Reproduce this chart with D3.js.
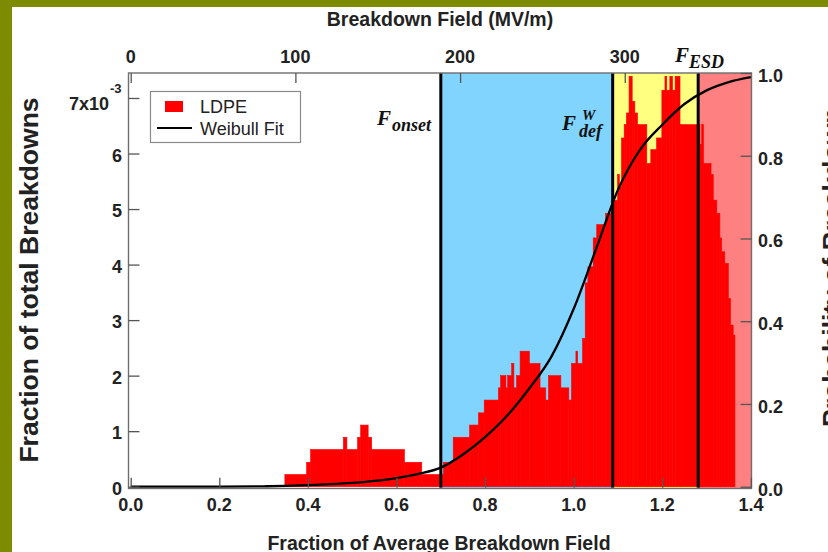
<!DOCTYPE html>
<html>
<head>
<meta charset="utf-8">
<script src="https://cdn.jsdelivr.net/npm/d3@7"></script>
<style>
  html, body { margin: 0; padding: 0; background: #fff; }
  svg { display: block; }
</style>
</head>
<body>
<svg id="chart" width="828" height="552"></svg>
<script>
// Histogram of breakdowns: step edges along the fraction-of-average-field axis
const stepEdges = [
  0.348, 0.397, 0.406, 0.480, 0.488, 0.512, 0.519, 0.536, 0.544, 0.618,
  0.657, 0.706, 0.728, 0.765, 0.785, 0.798, 0.830, 0.835, 0.847, 0.851,
  0.860, 0.865, 0.871, 0.879, 0.900, 0.924, 0.937, 0.943, 0.971, 0.989,
  0.995, 1.005, 1.009, 1.020, 1.026, 1.032, 1.044, 1.052, 1.072, 1.086,
  1.099, 1.103, 1.108, 1.114, 1.119, 1.125, 1.132, 1.138, 1.144, 1.165,
  1.174, 1.187, 1.199, 1.206, 1.210, 1.217, 1.223, 1.229, 1.240, 1.285,
  1.289, 1.293, 1.310, 1.315, 1.323, 1.330, 1.334, 1.341, 1.349, 1.354,
  1.360, 1.364
];
// Fraction of total breakdowns in each step (units of 1e-3)
const stepFraction = [
  0.22, 0.44, 0.67, 0.89, 0.67, 0.89, 1.11, 0.89, 0.67,
  0.44, 0.22, 0.44, 0.89, 1.11, 1.33, 1.56, 1.78, 2.00, 1.78,
  2.00, 2.22, 1.78, 2.00, 2.44, 2.22, 1.78, 1.56, 2.00, 1.78,
  1.56, 2.22, 2.44, 2.22, 2.67, 3.67, 3.96, 4.48, 4.72, 4.92,
  5.16, 5.62, 5.40, 6.28, 6.52, 6.73, 7.39, 6.94, 6.73, 6.52,
  5.82, 6.07, 6.28, 7.14, 7.39, 7.14, 7.39, 7.14, 7.39, 6.52,
  6.16, 6.52, 5.82, 5.62, 5.16, 4.92, 4.48, 4.23, 4.02, 3.39,
  2.91, 2.73
];

// Weibull fit (cumulative probability of breakdown)
const weibullX = [0, 0.2, 0.3, 0.35, 0.4, 0.45, 0.5, 0.55, 0.6, 0.65, 0.7, 0.75, 0.8,
  0.85, 0.9, 0.95, 1.0, 1.05, 1.1, 1.15, 1.2, 1.25, 1.3, 1.35, 1.4];
const weibullP = [0, 0, 0.001, 0.002, 0.004, 0.006, 0.009, 0.014, 0.021, 0.031, 0.046,
  0.078, 0.12, 0.172, 0.238, 0.315, 0.43, 0.573, 0.718, 0.815, 0.875, 0.925, 0.958, 0.978, 0.99];

// Field regions (fraction of average breakdown field)
const regionStart = [0.7, 1.088, 1.281];
const regionColors = ["#80d4fe", "#ffff80", "#ff8080"];

const bottomTicks = [0.0, 0.2, 0.4, 0.6, 0.8, 1.0, 1.2, 1.4];
const leftTicks = [0, 1, 2, 3, 4, 5, 6, 7];
const rightTicks = [0.0, 0.2, 0.4, 0.6, 0.8, 1.0];
const topTicks = [0, 100, 200, 300];
const averageField = 269; // MV/m corresponding to fraction 1.0

const sans = "'Liberation Sans', Arial, sans-serif";
const serif = "'Liberation Serif', 'Times New Roman', serif";

const svg = d3.select("#chart").style("font-family", sans);
const L = 128.5, R = 751.5, T = 73, B = 486.7;

const x = d3.scaleLinear().domain([-0.005, 1.4]).range([L, R - 0.6]);
const y = d3.scaleLinear().domain([0, 7.45]).range([B, T]);
const yP = d3.scaleLinear().domain([0, 1]).range([B, T]);
const xField = d3.scaleLinear().domain([0, 1.4 * averageField]).range([x(0), x(1.4)]);

// page frame
svg.append("rect").attr("x", 0).attr("y", 0).attr("width", 828).attr("height", 552).attr("fill", "#fff");
svg.append("rect").attr("x", 0).attr("y", 0).attr("width", 828).attr("height", 7).attr("fill", "#7d8b00");
svg.append("rect").attr("x", 0).attr("y", 0).attr("width", 12).attr("height", 552).attr("fill", "#7d8b00");

// colored field regions
const bounds = regionStart.concat([1.4]);
svg.selectAll("rect.region").data(regionColors).join("rect")
  .attr("class", "region")
  .attr("x", (d, i) => x(bounds[i]))
  .attr("y", T)
  .attr("width", (d, i) => (i === 2 ? R : x(bounds[i + 1])) - x(bounds[i]))
  .attr("height", B - T + 1.5)
  .attr("fill", d => d);

// histogram (thin same-colour stroke hides seams between neighbouring steps)
const bins = stepFraction.map((v, i) => ({ x0: stepEdges[i], x1: stepEdges[i + 1], v }));
svg.append("g").selectAll("rect").data(bins).join("rect")
  .attr("x", d => x(d.x0))
  .attr("y", d => y(d.v))
  .attr("width", d => x(d.x1) - x(d.x0))
  .attr("height", d => B - y(d.v))
  .attr("fill", "#ff0000")
  .attr("stroke", "#ff0000")
  .attr("stroke-width", 0.6);

// region boundary lines
svg.append("g").selectAll("line").data(regionStart).join("line")
  .attr("x1", d => x(d)).attr("x2", d => x(d))
  .attr("y1", T).attr("y2", B + 1)
  .attr("stroke", "#000").attr("stroke-width", 3);

// Weibull curve
const line = d3.line()
  .x(d => x(d[0]))
  .y(d => yP(d[1]))
  .curve(d3.curveMonotoneX);
svg.append("path")
  .datum(weibullX.map((v, i) => [v, weibullP[i]]))
  .attr("d", line)
  .attr("fill", "none")
  .attr("stroke", "#000")
  .attr("stroke-width", 2.3);

// plot frame
svg.append("rect")
  .attr("x", L).attr("y", T).attr("width", R - L).attr("height", B - T + 1.8)
  .attr("fill", "none").attr("stroke", "#6e6e6e").attr("stroke-width", 1.4);

// axes (inward ticks)
const tickStyle = g => g.selectAll("line").attr("stroke", "#555").attr("stroke-width", 1.3);
const axB = svg.append("g").attr("transform", `translate(0,${B + 1})`)
  .call(d3.axisTop(x).tickValues(bottomTicks).tickSize(10).tickFormat(""));
axB.select(".domain").remove(); tickStyle(axB);
svg.append("g").selectAll("text").data(bottomTicks).join("text")
  .attr("x", d => x(d)).attr("y", 511)
  .attr("text-anchor", "middle").attr("font-size", 18).attr("font-weight", "bold").attr("fill", "#222")
  .text(d => d3.format(".1f")(d));

const axL = svg.append("g").attr("transform", `translate(${L},0)`)
  .call(d3.axisRight(y).tickValues(leftTicks).tickSize(11).tickFormat(""));
axL.select(".domain").remove(); tickStyle(axL);
svg.append("g").selectAll("text").data(leftTicks.filter(d => d < 7)).join("text")
  .attr("x", 122).attr("y", d => y(d) + 8)
  .attr("text-anchor", "end").attr("font-size", 18).attr("font-weight", "bold").attr("fill", "#222")
  .text(d => d);
svg.append("text").attr("x", 109).attr("y", y(7) + 12)
  .attr("text-anchor", "end").attr("font-size", 18).attr("font-weight", "bold").attr("fill", "#222")
  .text("7x10");
svg.append("text").attr("x", 110).attr("y", y(7) - 5)
  .attr("font-size", 13).attr("font-weight", "bold").attr("fill", "#222").text("-3");

const axR = svg.append("g").attr("transform", `translate(${R},0)`)
  .call(d3.axisLeft(yP).tickValues(rightTicks).tickSize(11).tickFormat(""));
axR.select(".domain").remove(); tickStyle(axR);
svg.append("g").selectAll("text").data(rightTicks).join("text")
  .attr("x", 758).attr("y", d => yP(d) + 9)
  .attr("font-size", 18).attr("font-weight", "bold").attr("fill", "#222")
  .text(d => d3.format(".1f")(d));

const axT = svg.append("g").attr("transform", `translate(0,${T})`)
  .call(d3.axisBottom(xField).tickValues(topTicks).tickSize(10).tickFormat(""));
axT.select(".domain").remove(); tickStyle(axT);
svg.append("g").selectAll("text").data(topTicks).join("text")
  .attr("x", d => xField(d)).attr("y", 63)
  .attr("text-anchor", "middle").attr("font-size", 18).attr("font-weight", "bold").attr("fill", "#222")
  .text(d => d);

// axis titles
svg.append("text").attr("x", 440).attr("y", 26).attr("text-anchor", "middle")
  .attr("font-size", 19.5).attr("font-weight", "bold").attr("fill", "#222").text("Breakdown Field (MV/m)");
svg.append("text").attr("x", 439).attr("y", 550).attr("text-anchor", "middle")
  .attr("font-size", 19.5).attr("font-weight", "bold").attr("fill", "#222").text("Fraction of Average Breakdown Field");
svg.append("text").attr("transform", "translate(38,280) rotate(-90)").attr("text-anchor", "middle")
  .attr("font-size", 26.5).attr("font-weight", "bold").attr("fill", "#222").text("Fraction of total Breakdowns");
svg.append("text").attr("transform", "translate(841,427) rotate(-90)").attr("text-anchor", "start")
  .attr("font-size", 26.5).attr("font-weight", "bold").attr("fill", "#222").text("Probability of Breakdown");

// region labels
function fLabel(xF, yF, sub, sup, subDx, subDy) {
  const t = svg.append("g").style("font-family", serif).style("font-style", "italic")
    .attr("font-weight", "bold").attr("fill", "#111");
  t.append("text").attr("x", xF).attr("y", yF).attr("font-size", 21).text("F");
  t.append("text").attr("x", xF + subDx).attr("y", yF + subDy).attr("font-size", 18).text(sub);
  if (sup) {
    t.append("text").attr("x", xF + subDx + 3).attr("y", yF - 10).attr("font-size", 15).text(sup);
  }
}
fLabel(377, 125, "onset", null, 15, 6);
fLabel(562, 130, "def", "W", 17, 7);
fLabel(675, 62, "ESD", null, 14, 6);

// legend
const lg = svg.append("g");
lg.append("rect").attr("x", 150.5).attr("y", 91.5).attr("width", 150).attr("height", 51)
  .attr("fill", "#fff").attr("stroke", "#8a8a8a").attr("stroke-width", 1.2);
lg.append("rect").attr("x", 165).attr("y", 101).attr("width", 18).attr("height", 11).attr("fill", "#ff0000");
lg.append("text").attr("x", 200).attr("y", 113).attr("font-size", 18).attr("fill", "#222").text("LDPE");
lg.append("line").attr("x1", 157).attr("x2", 192).attr("y1", 128).attr("y2", 128)
  .attr("stroke", "#000").attr("stroke-width", 2);
lg.append("text").attr("x", 200).attr("y", 135).attr("font-size", 18).attr("fill", "#222").text("Weibull Fit");
</script>
</body>
</html>
